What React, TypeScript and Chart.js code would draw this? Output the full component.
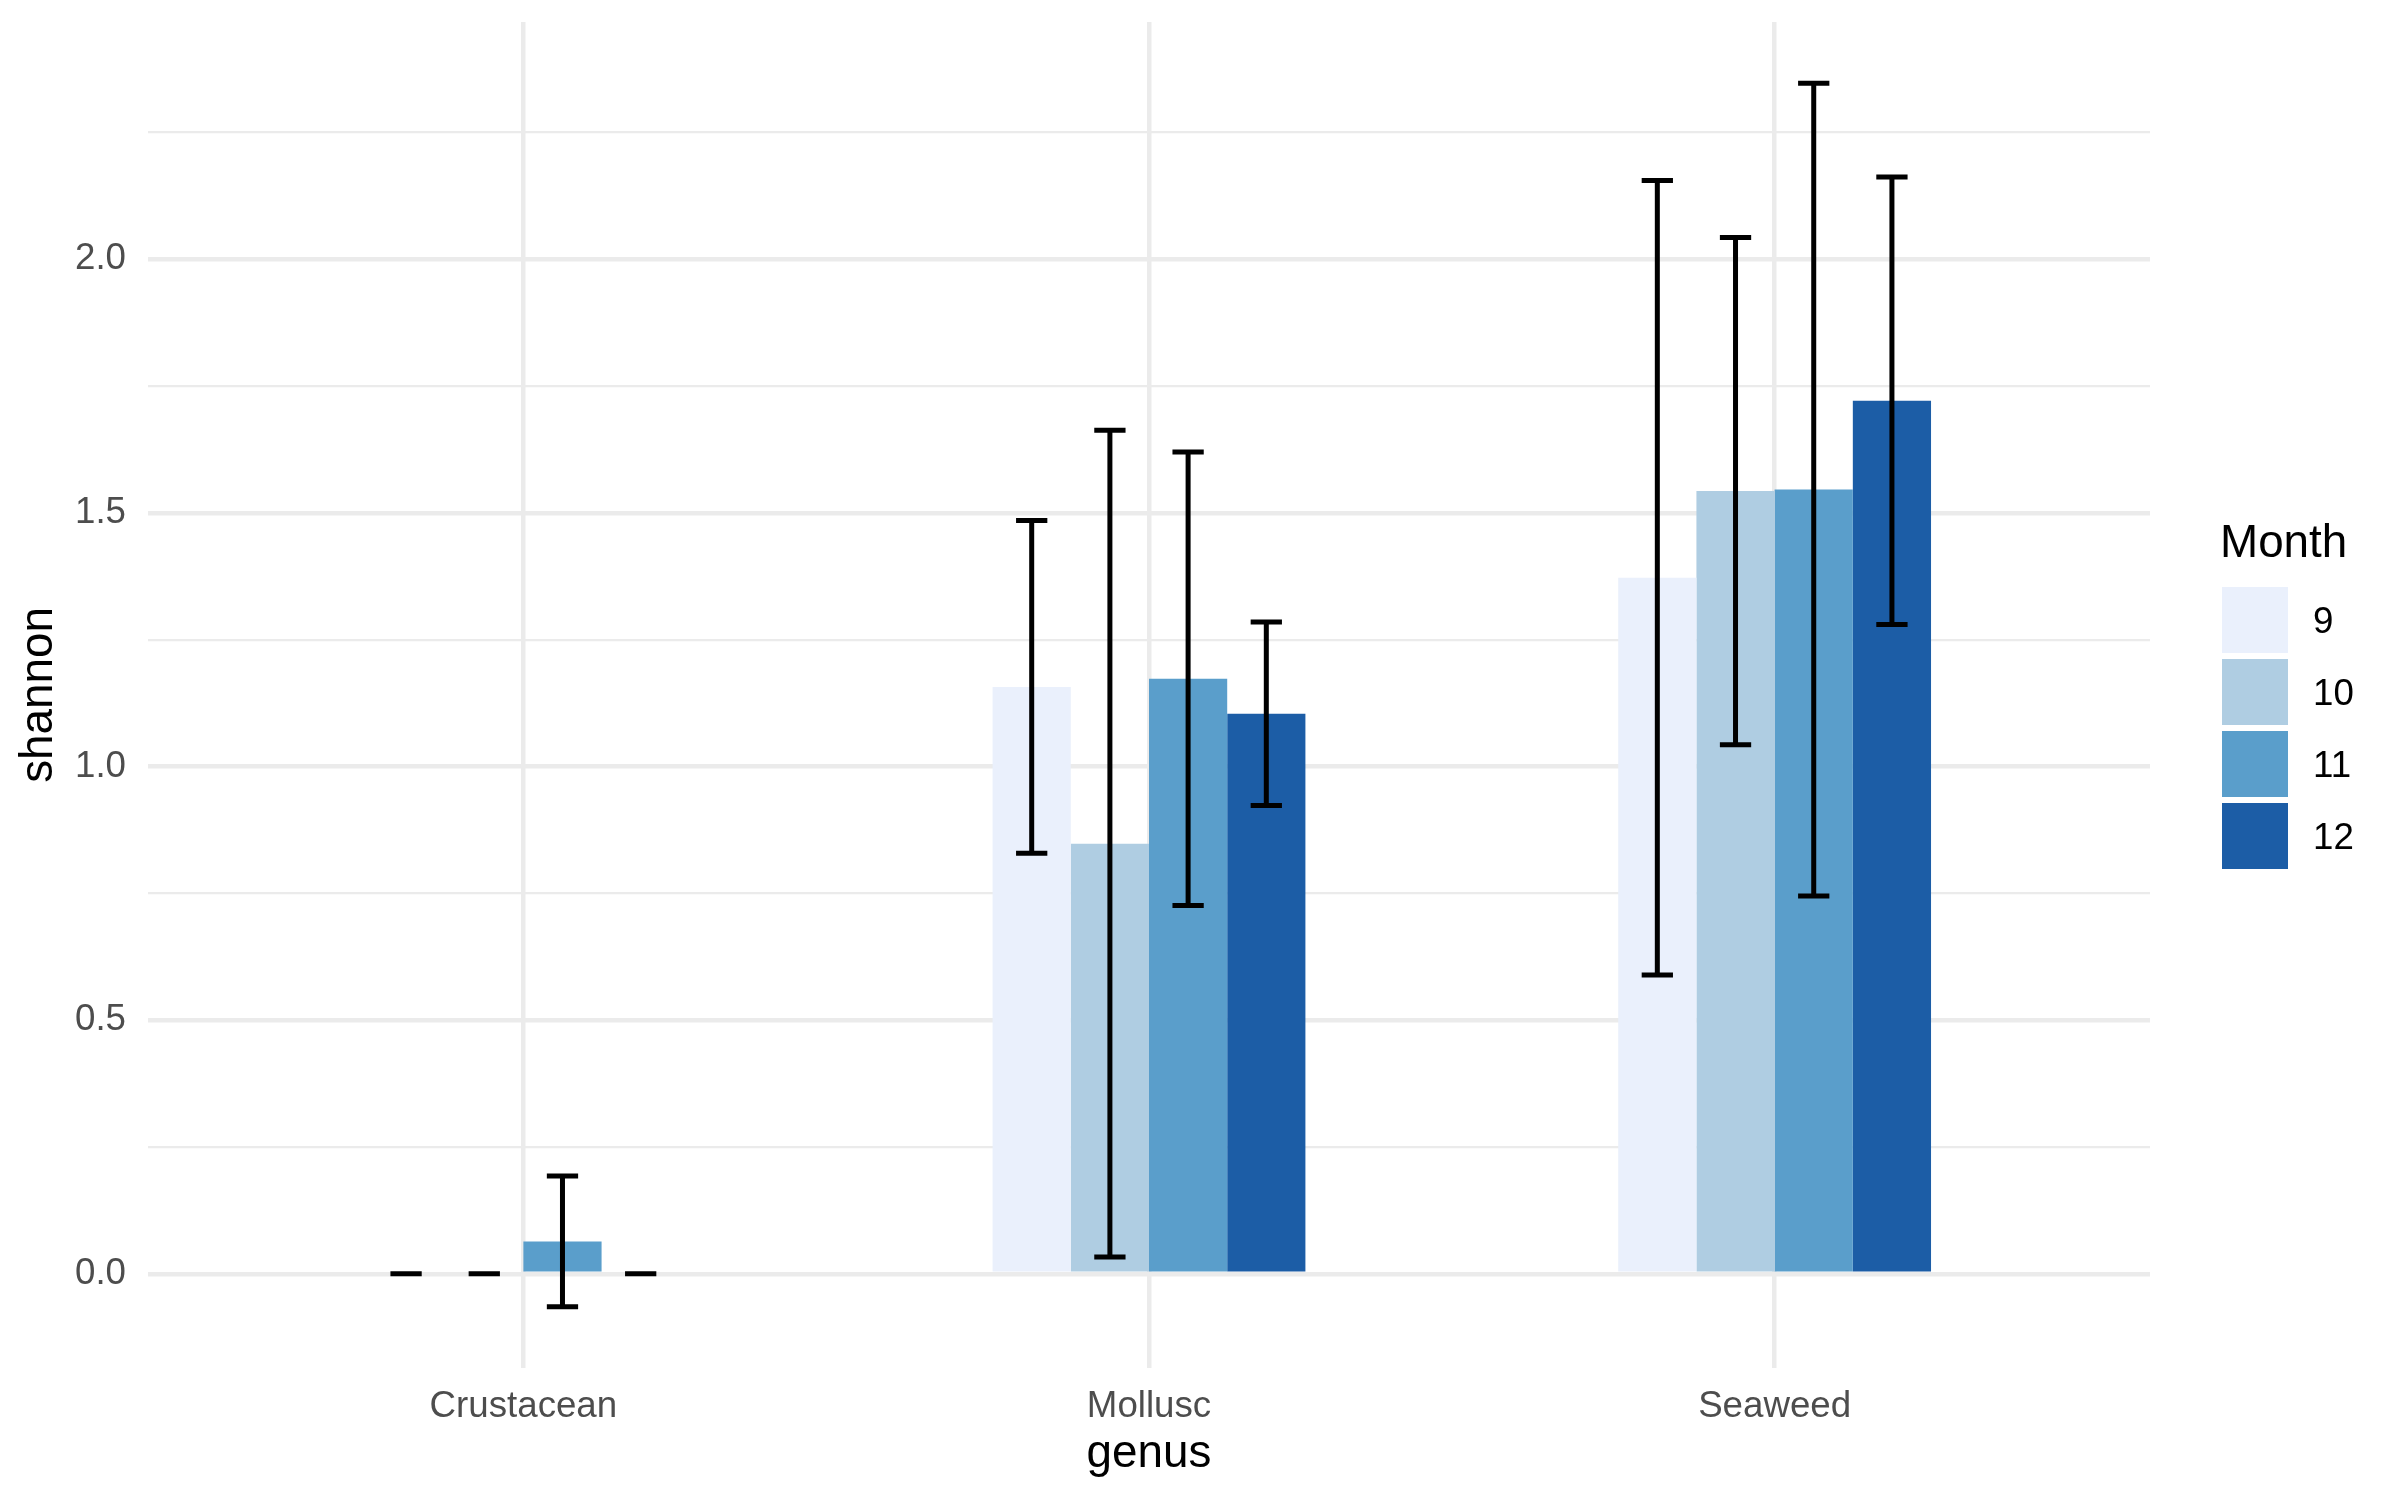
import React, { useEffect, useRef } from "react";
import { Chart, registerables } from "chart.js";

Chart.register(...registerables);

// ---- data ----
const categories = ["Crustacean", "Mollusc", "Seaweed"];
const months = ["9", "10", "11", "12"];
const month9 = [0, 1.157, 1.372];
const month10 = [0, 0.848, 1.543];
const month11 = [0.064, 1.173, 1.546];
const month12 = [0, 1.104, 1.721];
const err9 = [0, 0.328, 0.783];
const err10 = [0, 0.815, 0.5];
const err11 = [0.129, 0.447, 0.801];
const err12 = [0, 0.181, 0.441];
const yTickValues = [0, 0.25, 0.5, 0.75, 1.0, 1.25, 1.5, 1.75, 2.0, 2.25];

const colors = ["#EAF0FC", "#AFCDE2", "#5A9ECB", "#1C5DA6"];
const seriesValues = [month9, month10, month11, month12];
const seriesErrors = [err9, err10, err11, err12];

const FONT = "'Liberation Sans', Arial, Helvetica, sans-serif";
const isMajor = (v: number) => Math.abs(v * 2 - Math.round(v * 2)) < 1e-6;

// y limits with ggplot-style 5% expansion
const lows: number[] = [];
const highs: number[] = [];
seriesValues.forEach((s, i) =>
  s.forEach((v, j) => {
    lows.push(v - seriesErrors[i][j]);
    highs.push(v + seriesErrors[i][j]);
  })
);
const dMin = Math.min(...lows, 0);
const dMax = Math.max(...highs);
const yMin = dMin - 0.05 * (dMax - dMin);
const yMax = dMax + 0.05 * (dMax - dMin);

const errorBarPlugin = {
  id: "errorBars",
  afterDatasetsDraw(chart: any) {
    const ctx = chart.ctx;
    const yScale = chart.scales.y;
    ctx.save();
    ctx.strokeStyle = "#000000";
    ctx.lineWidth = 5;
    ctx.lineCap = "butt";
    chart.data.datasets.forEach((ds: any, di: number) => {
      const meta = chart.getDatasetMeta(di);
      meta.data.forEach((bar: any, j: number) => {
        const v = ds.data[j].y;
        const e = seriesErrors[di][j];
        const x = bar.x;
        const half = (bar.width * 0.4) / 2;
        const yHi = yScale.getPixelForValue(v + e);
        const yLo = yScale.getPixelForValue(v - e);
        ctx.beginPath();
        ctx.moveTo(x, yHi);
        ctx.lineTo(x, yLo);
        ctx.moveTo(x - half, yHi);
        ctx.lineTo(x + half, yHi);
        ctx.moveTo(x - half, yLo);
        ctx.lineTo(x + half, yLo);
        ctx.stroke();
      });
    });
    ctx.restore();
  },
};

const legendPlugin = {
  id: "customLegend",
  afterDraw(chart: any) {
    const ctx = chart.ctx;
    ctx.save();
    ctx.fillStyle = "#000000";
    ctx.font = `45.8px ${FONT}`;
    ctx.textAlign = "left";
    ctx.textBaseline = "alphabetic";
    ctx.fillText("Month", 2220, 557);
    const keyLeft = 2222;
    const keyTop = 587;
    const keySize = 66;
    const pitch = 72;
    chart.data.datasets.forEach((ds: any, i: number) => {
      const top = keyTop + i * pitch;
      ctx.fillStyle = ds.backgroundColor;
      ctx.fillRect(keyLeft, top, keySize, keySize);
      ctx.fillStyle = "#000000";
      ctx.font = `36.7px ${FONT}`;
      ctx.fillText(ds.label, 2313, top + keySize / 2 + 13);
    });
    ctx.restore();
  },
};

export default function App() {
  const canvasRef = useRef<HTMLCanvasElement | null>(null);

  useEffect(() => {
    document.body.style.margin = "0";
    const canvas = canvasRef.current;
    if (!canvas) return;
    const chart = new Chart(canvas, {
      type: "bar",
      data: {
        datasets: months.map((m, i) => ({
          label: m,
          data: seriesValues[i].map((v, j) => ({ x: j + 1, y: v })),
          backgroundColor: colors[i],
          borderWidth: 0,
          categoryPercentage: 0.5,
          barPercentage: 1.0,
        })),
      },
      options: {
        responsive: false,
        animation: false,
        events: [],
        layout: { padding: { top: 22, right: 250, left: 0, bottom: 0 } },
        plugins: {
          legend: { display: false },
          tooltip: { enabled: false },
        },
        scales: {
          x: {
            type: "linear",
            min: 0.4,
            max: 3.6,
            offset: false,
            grid: {
              offset: false,
              color: "#EBEBEB",
              lineWidth: 4.5,
              drawTicks: false,
            },
            border: { display: false },
            afterBuildTicks: (s: any) => {
              s.ticks = categories.map((_, i) => ({ value: i + 1 }));
            },
            ticks: {
              autoSkip: false,
              maxRotation: 0,
              minRotation: 0,
              padding: 17,
              color: "#4D4D4D",
              font: { family: FONT, size: 36.7 },
              callback: (v: any) => categories[Math.round(Number(v)) - 1] ?? "",
            },
            title: {
              display: true,
              text: "genus",
              color: "#000000",
              font: { family: FONT, size: 45.8 },
              padding: { top: 0, bottom: 18 },
            },
            afterFit: (s: any) => {
              s.height = 132;
              s.paddingLeft = 0;
              s.paddingRight = 0;
            },
          } as any,
          y: {
            type: "linear",
            min: yMin,
            max: yMax,
            grid: {
              color: "#EBEBEB",
              lineWidth: (c: any) => (c.tick && isMajor(c.tick.value) ? 4.5 : 2.2),
              drawTicks: false,
            },
            border: { display: false },
            afterBuildTicks: (s: any) => {
              s.ticks = yTickValues.map((v) => ({ value: v }));
            },
            ticks: {
              autoSkip: false,
              padding: 22,
              color: "#4D4D4D",
              font: { family: FONT, size: 36.7 },
              callback: (v: any) => (isMajor(Number(v)) ? Number(v).toFixed(1) : ""),
            },
            title: {
              display: true,
              text: "shannon",
              color: "#000000",
              font: { family: FONT, size: 45.8 },
              padding: { top: 11.5, bottom: 0 },
            },
            afterFit: (s: any) => {
              s.width = 148;
              s.paddingTop = 0;
              s.paddingBottom = 0;
            },
          } as any,
        },
      },
      plugins: [errorBarPlugin, legendPlugin],
    } as any);
    return () => {
      chart.destroy();
    };
  }, []);

  return (
    <div style={{ width: 2400, height: 1500, background: "#ffffff" }}>
      <canvas ref={canvasRef} width={2400} height={1500} style={{ display: "block" }} />
    </div>
  );
}
